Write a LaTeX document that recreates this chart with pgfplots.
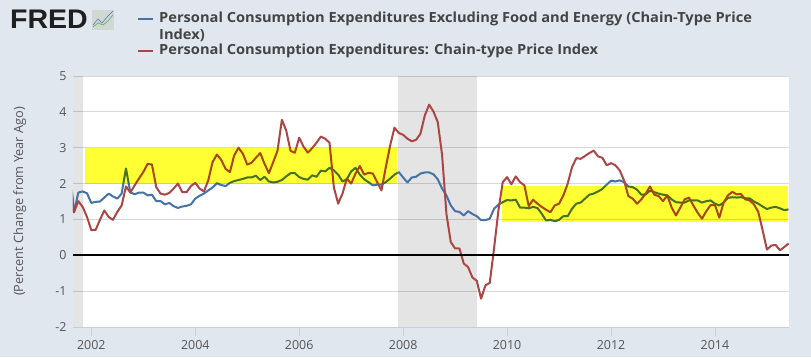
\documentclass[border=0pt]{standalone}
\usepackage{pgfplots}
\usepackage{pgfplotstable}
\usepackage{fontspec}
\pgfplotsset{compat=1.18}
\setmainfont{Open Sans}
\newfontfamily\logofont{Liberation Sans}
\definecolor{pagebg}{RGB}{224,231,239}
\definecolor{gridc}{RGB}{216,216,216}
\definecolor{axisc}{RGB}{192,208,224}
\definecolor{bluel}{RGB}{69,114,167}
\definecolor{redl}{RGB}{170,70,67}
\definecolor{txt}{RGB}{68,68,68}
\definecolor{ticktxt}{RGB}{85,85,85}
\definecolor{yel}{RGB}{255,255,51}
\definecolor{rec}{RGB}{228,228,228}
\definecolor{iconbg}{RGB}{208,216,212}
\newcommand{\legtext}[1]{\scalebox{1.05}[1]{\fontsize{14}{16}\selectfont\bfseries #1}}
\pgfplotstableread{
i core all
-1 2.30 2.40
0 1.20 1.20
1 1.75 1.51
2 1.78 1.35
3 1.73 1.07
4 1.46 0.70
5 1.49 0.71
6 1.50 0.99
7 1.61 1.25
8 1.72 1.07
9 1.64 0.99
10 1.58 1.21
11 1.72 1.39
12 2.42 1.92
13 1.76 1.75
14 1.70 1.95
15 1.75 2.14
16 1.75 2.32
17 1.67 2.55
18 1.69 2.53
19 1.51 1.90
20 1.51 1.72
21 1.42 1.69
22 1.46 1.74
23 1.37 1.86
24 1.32 2.00
25 1.36 1.76
26 1.38 1.76
27 1.42 1.93
28 1.58 2.02
29 1.66 1.86
30 1.72 1.78
31 1.81 2.09
32 1.89 2.60
33 2.01 2.81
34 1.96 2.66
35 1.93 2.41
36 2.02 2.32
37 2.07 2.79
38 2.10 3.00
39 2.13 2.83
40 2.17 2.53
41 2.17 2.58
42 2.22 2.72
43 2.10 2.85
44 2.19 2.55
45 2.06 2.29
46 2.03 2.60
47 2.05 2.92
48 2.10 3.78
49 2.20 3.48
50 2.29 2.91
51 2.29 2.86
52 2.18 3.28
53 2.13 3.03
54 2.11 2.86
55 2.23 2.99
56 2.19 3.14
57 2.36 3.31
58 2.34 3.25
59 2.44 3.14
60 2.37 1.90
61 2.25 1.44
62 2.06 1.72
63 2.12 2.14
64 2.34 2.00
65 2.44 2.28
66 2.25 2.49
67 2.12 2.25
68 2.04 2.30
69 1.95 2.28
70 1.97 2.04
71 1.97 1.81
72 2.04 2.46
73 2.14 3.06
74 2.25 3.56
75 2.32 3.41
76 2.17 3.36
77 2.03 3.25
78 2.17 3.18
79 2.19 3.22
80 2.28 3.39
81 2.31 3.90
82 2.31 4.20
83 2.26 4.01
84 2.12 3.71
85 1.86 2.79
86 1.67 1.15
87 1.39 0.37
88 1.23 0.19
89 1.21 0.19
90 1.11 -0.23
91 1.23 -0.33
92 1.15 -0.62
93 1.09 -0.71
94 0.98 -1.21
95 0.98 -0.84
96 1.02 -0.77
97 1.30 0.20
98 1.41 1.25
99 1.48 2.04
100 1.54 2.18
101 1.53 1.98
102 1.55 2.20
103 1.33 2.04
104 1.33 1.95
105 1.31 1.37
106 1.35 1.55
107 1.32 1.44
108 1.16 1.35
109 0.97 1.27
110 0.99 1.20
111 0.95 1.39
112 0.99 1.44
113 1.09 1.67
114 1.09 2.00
115 1.30 2.46
116 1.44 2.71
117 1.47 2.69
118 1.58 2.77
119 1.69 2.85
120 1.72 2.92
121 1.78 2.76
122 1.85 2.72
123 1.97 2.51
124 2.08 2.57
125 2.06 2.51
126 2.09 2.37
127 2.04 2.09
128 1.92 1.65
129 1.90 1.58
130 1.83 1.44
131 1.69 1.56
132 1.70 1.72
133 1.80 1.92
134 1.76 1.69
135 1.72 1.65
136 1.69 1.51
137 1.67 1.67
138 1.56 1.33
139 1.48 1.11
140 1.47 1.33
141 1.47 1.56
142 1.53 1.61
143 1.53 1.39
144 1.53 1.19
145 1.47 1.02
146 1.51 1.23
147 1.53 1.40
148 1.44 1.40
149 1.39 1.05
150 1.47 1.47
151 1.60 1.67
152 1.62 1.77
153 1.61 1.70
154 1.62 1.71
155 1.59 1.56
156 1.59 1.53
157 1.50 1.42
158 1.44 1.21
159 1.36 0.70
160 1.29 0.16
161 1.33 0.27
162 1.35 0.29
163 1.31 0.14
164 1.26 0.23
165 1.28 0.33
}\pcedata
\begin{document}
\begin{tikzpicture}[x=1bp,y=1bp]
\fill[pagebg] (-73,-30) rectangle (738,327);
% logo
\node[anchor=west,inner sep=0pt,text=black!88] at (-63,307.5) {\scalebox{1.06}[1]{\logofont\fontsize{27}{27}\selectfont\bfseries FRED}};
\fill[iconbg] (19,297) rectangle (41,317);
\draw[bluel,line width=0.5bp] (20,302) -- (25,308) -- (29,304) -- (35,311) -- (40,316);
\draw[green!50!black!70,line width=0.5bp] (20,300) -- (25,304) -- (30,302) -- (35,306) -- (40,312);
% legend
\draw[bluel,line width=2bp] (65,308) -- (80,308);
\draw[redl,line width=2bp] (65,276) -- (80,276);
\node[anchor=west,inner sep=0pt,text=txt] at (86,308) {\legtext{Personal Consumption Expenditures Excluding Food and Energy (Chain-Type Price}};
\node[anchor=west,inner sep=0pt,text=txt] at (86,292) {\legtext{Index)}};
\node[anchor=west,inner sep=0pt,text=txt] at (86,276) {\legtext{Personal Consumption Expenditures: Chain-type Price Index}};
\begin{axis}[
  at={(0,0)},anchor=south west,
  scale only axis,width=716bp,height=251bp,
  xmin=-0.23,xmax=165.1,ymin=-2,ymax=5,
  axis background/.style={fill=white},
  axis x line*=bottom,axis y line*=left,
  x axis line style={draw=axisc,-},
  y axis line style={draw=none,-},
  xtick={4,28,52,76,100,124,148},
  xticklabels={2002,2004,2006,2008,2010,2012,2014},
  ytick={-2,-1,0,1,2,3,4,5},
  ymajorgrids,
  grid style={draw=gridc,line width=1bp},
  tick align=outside,
  x tick style={draw=axisc,line width=0.8bp},
  y tick style={draw=none},
  major tick length=9bp,
  /pgf/number format/assume math mode=true,
  tick label style={font=\fontsize{12.5}{14}\selectfont,text=ticktxt},
  yticklabel style={xshift=6bp},
  xticklabel style={yshift=-1bp},
  ylabel={(Percent Change from Year Ago)},
  ylabel style={font=\fontsize{12.8}{14}\selectfont,text=ticktxt,at={(axis description cs:-0.0745,0.5)},anchor=center},
  clip=true,
]
\addplot[fill=rec,draw=none,blend mode=multiply] coordinates {(-0.23,-2) (2,-2) (2,5) (-0.23,5)} --cycle;
\addplot[fill=rec,draw=none,blend mode=multiply] coordinates {(74.8,-2) (93,-2) (93,5) (74.8,5)} --cycle;
\addplot[bluel,line width=2bp,line join=round,no markers] table[x=i,y=core] {\pcedata};
\addplot[redl,line width=2bp,line join=round,no markers] table[x=i,y=all] {\pcedata};
\addplot[fill=yel,draw=none,blend mode=multiply] coordinates {(2.47,2) (74.5,2) (74.5,2.98) (2.47,2.98)} --cycle;
\addplot[fill=yel,draw=none,blend mode=multiply] coordinates {(98.9,0.93) (164.8,0.93) (164.8,1.92) (98.9,1.92)} --cycle;
\addplot[black,line width=2.2bp,no markers] coordinates {(-0.23,0) (165.1,0)};
\end{axis}
\end{tikzpicture}
\end{document}
